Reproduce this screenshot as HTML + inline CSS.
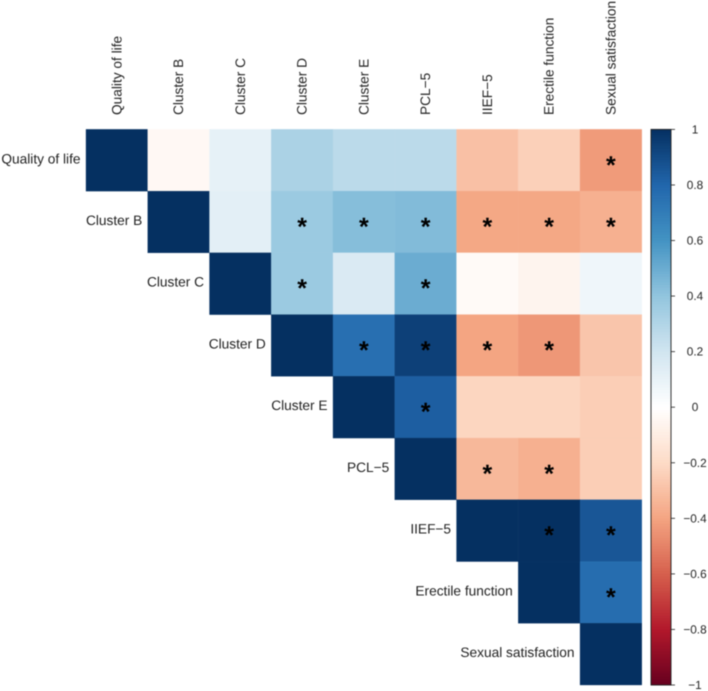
<!DOCTYPE html>
<html lang="en">
<head>
<meta charset="utf-8">
<title>Correlation matrix</title>
<style>
  html, body { margin: 0; padding: 0; background: #fff; }
  svg { display: block; font-family: "Liberation Sans", Arial, sans-serif; text-rendering: geometricPrecision; }
  #chart { filter: blur(0.4px); }
</style>
</head>
<body>
<svg id="chart" xmlns="http://www.w3.org/2000/svg" width="708" height="691" viewBox="0 0 708 691"></svg>
<script>
const variableNames = ["Quality of life", "Cluster B", "Cluster C", "Cluster D", "Cluster E", "PCL\u22125", "IIEF\u22125", "Erectile function", "Sexual satisfaction"];
const rowQualityOfLife = [1, -0.04, 0.11, 0.32, 0.27, 0.27, -0.3, -0.24, -0.43];
const rowClusterB = [null, 1, 0.12, 0.37, 0.43, 0.44, -0.39, -0.39, -0.36];
const rowClusterC = [null, null, 1, 0.37, 0.16, 0.5, -0.03, -0.06, 0.07];
const rowClusterD = [null, null, null, 1, 0.76, 0.94, -0.4, -0.44, -0.28];
const rowClusterE = [null, null, null, null, 1, 0.83, -0.22, -0.22, -0.25];
const rowPCL5 = [null, null, null, null, null, 1, -0.33, -0.36, -0.25];
const rowIIEF5 = [null, null, null, null, null, null, 1, 1, 0.86];
const rowErectile = [null, null, null, null, null, null, null, 1, 0.77];
const rowSexual = [null, null, null, null, null, null, null, null, 1];
const correlationRows = [rowQualityOfLife, rowClusterB, rowClusterC, rowClusterD, rowClusterE, rowPCL5, rowIIEF5, rowErectile, rowSexual];
const sigQualityOfLife = [8];
const sigClusterB = [3, 4, 5, 6, 7, 8];
const sigClusterC = [3, 5];
const sigClusterD = [4, 5, 6, 7];
const sigClusterE = [5];
const sigPCL5 = [6, 7];
const sigIIEF5 = [7, 8];
const sigErectile = [8];
const sigSexual = [];
const significantColumns = [sigQualityOfLife, sigClusterB, sigClusterC, sigClusterD, sigClusterE, sigPCL5, sigIIEF5, sigErectile, sigSexual];
const colorbarTicks = [1, 0.8, 0.6, 0.4, 0.2, 0, -0.2, -0.4, -0.6, -0.8, -1];
const paletteStops = ["#67001F", "#B2182B", "#D6604D", "#F4A582", "#FDDBC7", "#FFFFFF", "#D1E5F0", "#92C5DE", "#4393C3", "#2166AC", "#053061"];

const NS = "http://www.w3.org/2000/svg";
const svg = document.getElementById("chart");
const gridLeft = 86, gridRight = 641.8, gridTop = 129.4, gridBottom = 685;
const barLeft = 651, barRight = 671, tickEnd = 675, barLabelX = 695;
const cellW = (gridRight - gridLeft) / variableNames.length;
const cellH = (gridBottom - gridTop) / variableNames.length;

function xScale(col) { return gridLeft + col * cellW; }
function yScale(row) { return gridTop + row * cellH; }
function barScale(v) { return gridTop + (1 - v) / 2 * (gridBottom - gridTop); }
function toKebab(s) { return s.toLowerCase().replace(/[^a-z0-9]+/g, "-"); }
function colorFor(v) {
  const t = (Math.max(-1, Math.min(1, v)) + 1) / 2 * (paletteStops.length - 1);
  const i = Math.min(Math.floor(t), paletteStops.length - 2);
  const f = t - i;
  const a = paletteStops[i], b = paletteStops[i + 1];
  const ch = [1, 3, 5].map(function (p) {
    const c0 = parseInt(a.substr(p, 2), 16), c1 = parseInt(b.substr(p, 2), 16);
    return Math.round(c0 + (c1 - c0) * f);
  });
  return "rgb(" + ch.join(",") + ")";
}
function make(tag, attrs, text) {
  const el = document.createElementNS(NS, tag);
  Object.keys(attrs).forEach(function (k) { el.setAttribute(k, attrs[k]); });
  if (text !== undefined) el.textContent = text;
  svg.appendChild(el);
  return el;
}

correlationRows.forEach(function (rowValues, r) {
  rowValues.forEach(function (v, c) {
    if (v === null) return;
    const col = colorFor(v);
    const cell = make("rect", { x: xScale(c), y: yScale(r), width: cellW, height: cellH, fill: col, stroke: col, "stroke-width": 0.3 });
    
    
  });
});

significantColumns.forEach(function (cols, r) {
  cols.forEach(function (c) {
    const star = make("text", { x: xScale(c) + cellW / 2, y: yScale(r) + cellH / 2 + 13, "text-anchor": "middle", "font-size": 25, "font-weight": "bold", fill: "#000" }, "*");
    
    
  });
});

variableNames.forEach(function (name, i) {
  const rowLabel = make("text", { x: xScale(i) - 5.5, y: yScale(i) + cellH / 2 + 3, "text-anchor": "end", "font-size": 13.7, fill: "#222" }, name);
  
  
  const cx = xScale(i) + cellW / 2 + 4.5;
  const colLabel = make("text", { x: cx, y: 115, transform: "rotate(-90 " + cx + " 115)", "font-size": 13.7, fill: "#222" }, name);
  
  
});

const barSteps = 200;
const barStepH = (gridBottom - gridTop) / barSteps;
for (let i = 0; i < barSteps; i++) {
  const v = 1 - (i + 0.5) / barSteps * 2;
  const seg = make("rect", { x: barLeft, y: barScale(1) + i * barStepH, width: barRight - barLeft, height: barStepH + 0.4, fill: colorFor(v) });
  
  
}
const barFrame = make("rect", { x: barLeft, y: gridTop, width: barRight - barLeft, height: gridBottom - gridTop, fill: "none", stroke: "#222", "stroke-width": 0.9 });



colorbarTicks.forEach(function (t) {
  const y = barScale(t);
  const tick = make("line", { x1: barRight, x2: tickEnd, y1: y, y2: y, stroke: "#222", "stroke-width": 0.8 });
  
  
  const label = make("text", { x: barLabelX, y: y + 4, "text-anchor": "middle", "font-size": 11.8, fill: "#222" }, String(t).replace("-", "\u2212"));
  
  
});
</script>
</body>
</html>
